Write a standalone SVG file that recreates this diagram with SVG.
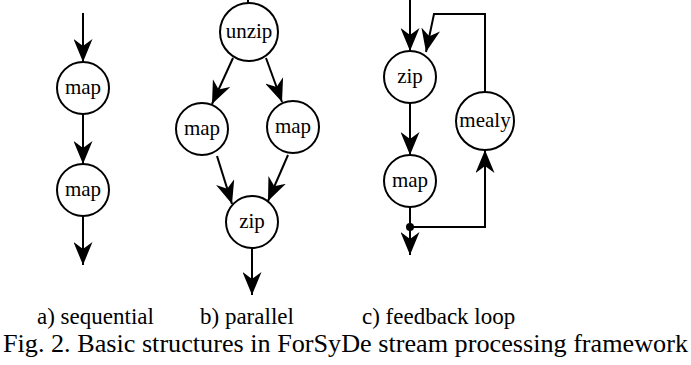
<svg xmlns="http://www.w3.org/2000/svg" width="691" height="365" viewBox="0 0 691 365">
  <style>
    text { font-family: 'Liberation Serif', 'Times New Roman', serif; fill: #000000; }
    .node circle { fill: #ffffff; stroke: #000000; stroke-width: 2; }
    .node text { font-size: 21px; text-anchor: middle; }
    .edge { fill: none; stroke: #000000; stroke-width: 2; }
    .arrow { marker-end: url(#head); }
    .label { font-size: 23px; }
    .caption { font-size: 26px; }
  </style>
  <defs>
    <marker id="head" viewBox="0 0 23 19" refX="23" refY="9.5" markerWidth="23" markerHeight="19" markerUnits="userSpaceOnUse" orient="auto">
      <path d="M23,9.5 L0,0 L7,9.5 L0,19 Z" fill="#000000"/>
    </marker>
  </defs>

  <g id="connectors">
    <!-- a) sequential -->
    <line class="edge arrow" x1="83" y1="13" x2="83" y2="62"/>
    <line class="edge arrow" x1="83" y1="114" x2="83" y2="164"/>
    <line class="edge arrow" x1="83" y1="216" x2="83" y2="265"/>
    <!-- b) parallel -->
    <line class="edge" x1="248" y1="0" x2="248" y2="3"/>
    <line class="edge arrow" x1="233" y1="58" x2="212" y2="104"/>
    <line class="edge arrow" x1="266" y1="58" x2="282" y2="102"/>
    <line class="edge arrow" x1="217" y1="156" x2="232" y2="204"/>
    <line class="edge arrow" x1="288" y1="155" x2="268" y2="201"/>
    <line class="edge arrow" x1="252" y1="248" x2="252" y2="295"/>
    <!-- c) feedback loop -->
    <line class="edge arrow" x1="410" y1="0" x2="410" y2="51"/>
    <line class="edge arrow" x1="410" y1="103" x2="410" y2="155"/>
    <line class="edge arrow" x1="410" y1="207" x2="410" y2="255"/>
    <polyline class="edge arrow" points="410,227 485,227 485,150"/>
    <polyline class="edge arrow" points="485,92 485,14 434,14 426,52"/>
    <circle cx="410" cy="227" r="4" fill="#000000"/>
  </g>

  <g id="seq-map1" class="node">
    <circle cx="83" cy="88" r="26"/>
    <text x="83" y="94">map</text>
  </g>
  <g id="seq-map2" class="node">
    <circle cx="83" cy="190" r="26"/>
    <text x="83" y="196">map</text>
  </g>

  <g id="par-unzip" class="node">
    <circle cx="249" cy="32" r="29"/>
    <text x="249" y="38">unzip</text>
  </g>
  <g id="par-map-left" class="node">
    <circle cx="202" cy="129" r="26"/>
    <text x="202" y="135">map</text>
  </g>
  <g id="par-map-right" class="node">
    <circle cx="293" cy="127" r="26"/>
    <text x="293" y="133">map</text>
  </g>
  <g id="par-zip" class="node">
    <circle cx="252" cy="222" r="26"/>
    <text x="252" y="228">zip</text>
  </g>

  <g id="fb-zip" class="node">
    <circle cx="410" cy="77" r="26"/>
    <text x="410" y="83">zip</text>
  </g>
  <g id="fb-map" class="node">
    <circle cx="410" cy="181" r="26"/>
    <text x="410" y="187">map</text>
  </g>
  <g id="fb-mealy" class="node">
    <circle cx="485" cy="121" r="29"/>
    <text x="485" y="127">mealy</text>
  </g>

  <g id="labels">
    <text class="label" x="37" y="324">a) sequential</text>
    <text class="label" x="200" y="324">b) parallel</text>
    <text class="label" x="362" y="324">c) feedback loop</text>
    <text class="caption" x="3" y="352" textLength="685" lengthAdjust="spacingAndGlyphs">Fig. 2. Basic structures in ForSyDe stream processing framework</text>
  </g>
</svg>
